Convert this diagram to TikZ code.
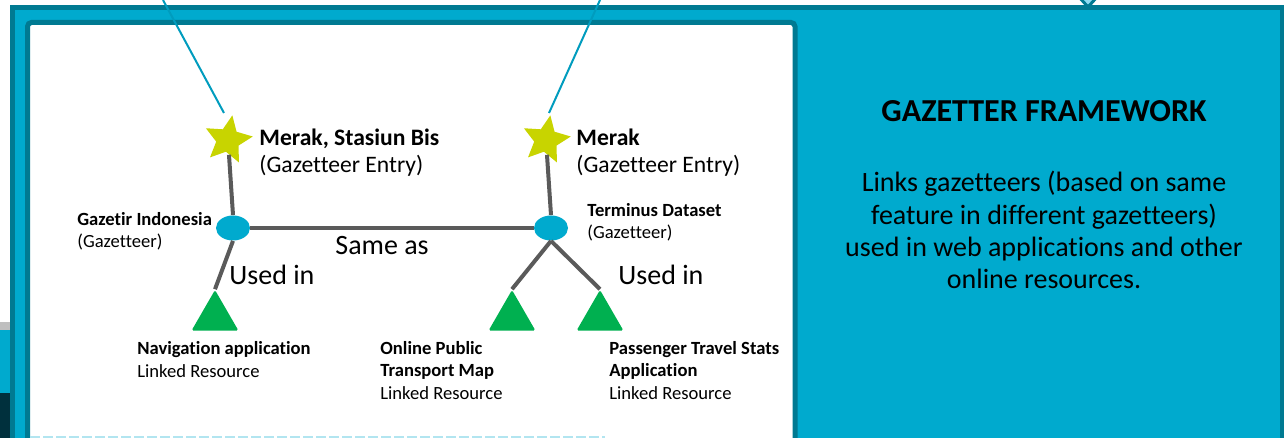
\documentclass[tikz,border=0pt]{standalone}
\usepackage{fontspec}
\setmainfont{Carlito}[Ligatures=NoCommon]
\usetikzlibrary{positioning}
\usetikzlibrary{shapes.geometric}
\definecolor{frameteal}{HTML}{007A92}
\definecolor{panelblue}{HTML}{00AACE}
\definecolor{linkgray}{HTML}{5A5A5A}
\definecolor{entrylime}{HTML}{C8D400}
\definecolor{resgreen}{HTML}{00B050}
\definecolor{navydark}{HTML}{00303D}
\definecolor{paleblue}{HTML}{8FDCF2}
\tikzset{
  entry/.style={star, star points=5, star point ratio=2.1, fill=entrylime,
    minimum size=25pt, inner sep=0pt, shape border rotate=-10},
  gazetteer/.style={ellipse, fill=panelblue, minimum width=17pt,
    minimum height=12.5pt, inner sep=0pt},
  resource/.style={regular polygon, regular polygon sides=3, fill=resgreen,
    minimum size=27pt, inner sep=0pt, rounded corners=0.8pt},
  link/.style={draw=linkgray, line width=2pt},
  callout/.style={draw=panelblue!92!black, line width=1pt},
  bigtext/.style={font=\fontsize{14}{16}\selectfont, inner sep=0pt},
  midtext/.style={font=\fontsize{11.8}{13.5}\selectfont, align=left, inner sep=0pt},
  smalltext/.style={font=\fontsize{9.3}{11.25}\selectfont, align=left, inner sep=0pt}
}

\begin{document}
\begin{tikzpicture}[x=0.5pt,y=-0.5pt]
\useasboundingbox (0,0) rectangle (1284,438);

% left edge strip
\fill[gray!50] (0,322) rectangle (10,330);
\fill[panelblue] (0,330) rectangle (10,393);
\fill[navydark] (0,393) rectangle (10,438);

% outer frame and white panel
\filldraw[fill=panelblue, draw=frameteal, line width=2.3pt] (12.5,7.5) rectangle (1282,480);
\filldraw[fill=white, draw=frameteal, line width=2.5pt, rounded corners=2pt] (27.5,22.5) rectangle (795,480);
\draw[panelblue!30, line width=1pt, dash pattern=on 5pt off 1.5pt] (30,436.5) -- (605,436.5);
\filldraw[fill=paleblue, draw=frameteal, line width=1.5pt] (1079,-3) -- (1088,7) -- (1097,-3);

% gazetteer entries
\node[entry] (merak1) at (228,140) {};
\node[entry] (merak2) at (546,140) {};

% gazetteers
\node[gazetteer] (gazetir) at (233,228) {};
\node[gazetteer] (terminus) at (551,228) {};

% linked resources
\node[resource] (navapp) at (215,317) {};
\node[resource] (transmap) at (512,317) {};
\node[resource] (travelstats) at (600,317) {};

% callout lines
\coordinate (call1top) at (163,0);
\coordinate (call1end) at (224,113);
\coordinate (call2top) at (600,0);
\coordinate (call2end) at (549,113);
\draw[callout] (call1top) -- (call1end);
\draw[callout] (call2top) -- (call2end);

% links
\draw[link] (merak1) -- (gazetir.north);
\draw[link] (merak2) -- (terminus.north);
\draw[link] (gazetir.east) -- (terminus.west);
\draw[link] (gazetir.south) -- (navapp.corner 1);
\draw[link] (terminus.south) -- (transmap.corner 1);
\draw[link] (terminus.south) -- (travelstats.corner 1);

% labels (base = last line)
\node[midtext, anchor=base west] (merak1lbl) at (259,173) {\textbf{Merak, Stasiun Bis}\\(Gazetteer Entry)};
\node[midtext, anchor=base west] (merak2lbl) at (576,173) {\textbf{Merak}\\(Gazetteer Entry)};
\node[smalltext, anchor=base west] (gazetirlbl) at (77,248) {\textbf{Gazetir Indonesia}\\(Gazetteer)};
\node[smalltext, anchor=base west] (terminuslbl) at (587,239) {\textbf{Terminus Dataset}\\(Gazetteer)};
\node[smalltext, anchor=base west] (navapplbl) at (137,377) {\textbf{Navigation application}\\Linked Resource};
\node[smalltext, anchor=base west] (transmaplbl) at (380,399) {\textbf{Online Public}\\\textbf{Transport Map}\\Linked Resource};
\node[smalltext, anchor=base west] (travelstatslbl) at (609,399) {\textbf{Passenger Travel Stats}\\\textbf{Application}\\Linked Resource};
\node[bigtext, anchor=base west] (sameas) at (335,255) {Same as};
\node[bigtext, anchor=base west] (usedin1) at (229,285) {Used in};
\node[bigtext, anchor=base west] (usedin2) at (618,285) {Used in};

% framework text
\node[bigtext, font=\fontsize{16}{18}\selectfont, anchor=base] (title) at (1044,122) {\textbf{GAZETTER FRAMEWORK}};
\node[bigtext, align=center, anchor=base] (summary) at (1044,288)
  {Links gazetteers (based on same\\feature in different gazetteers)\\used in web applications and other\\online resources.};

\end{tikzpicture}
\end{document}
